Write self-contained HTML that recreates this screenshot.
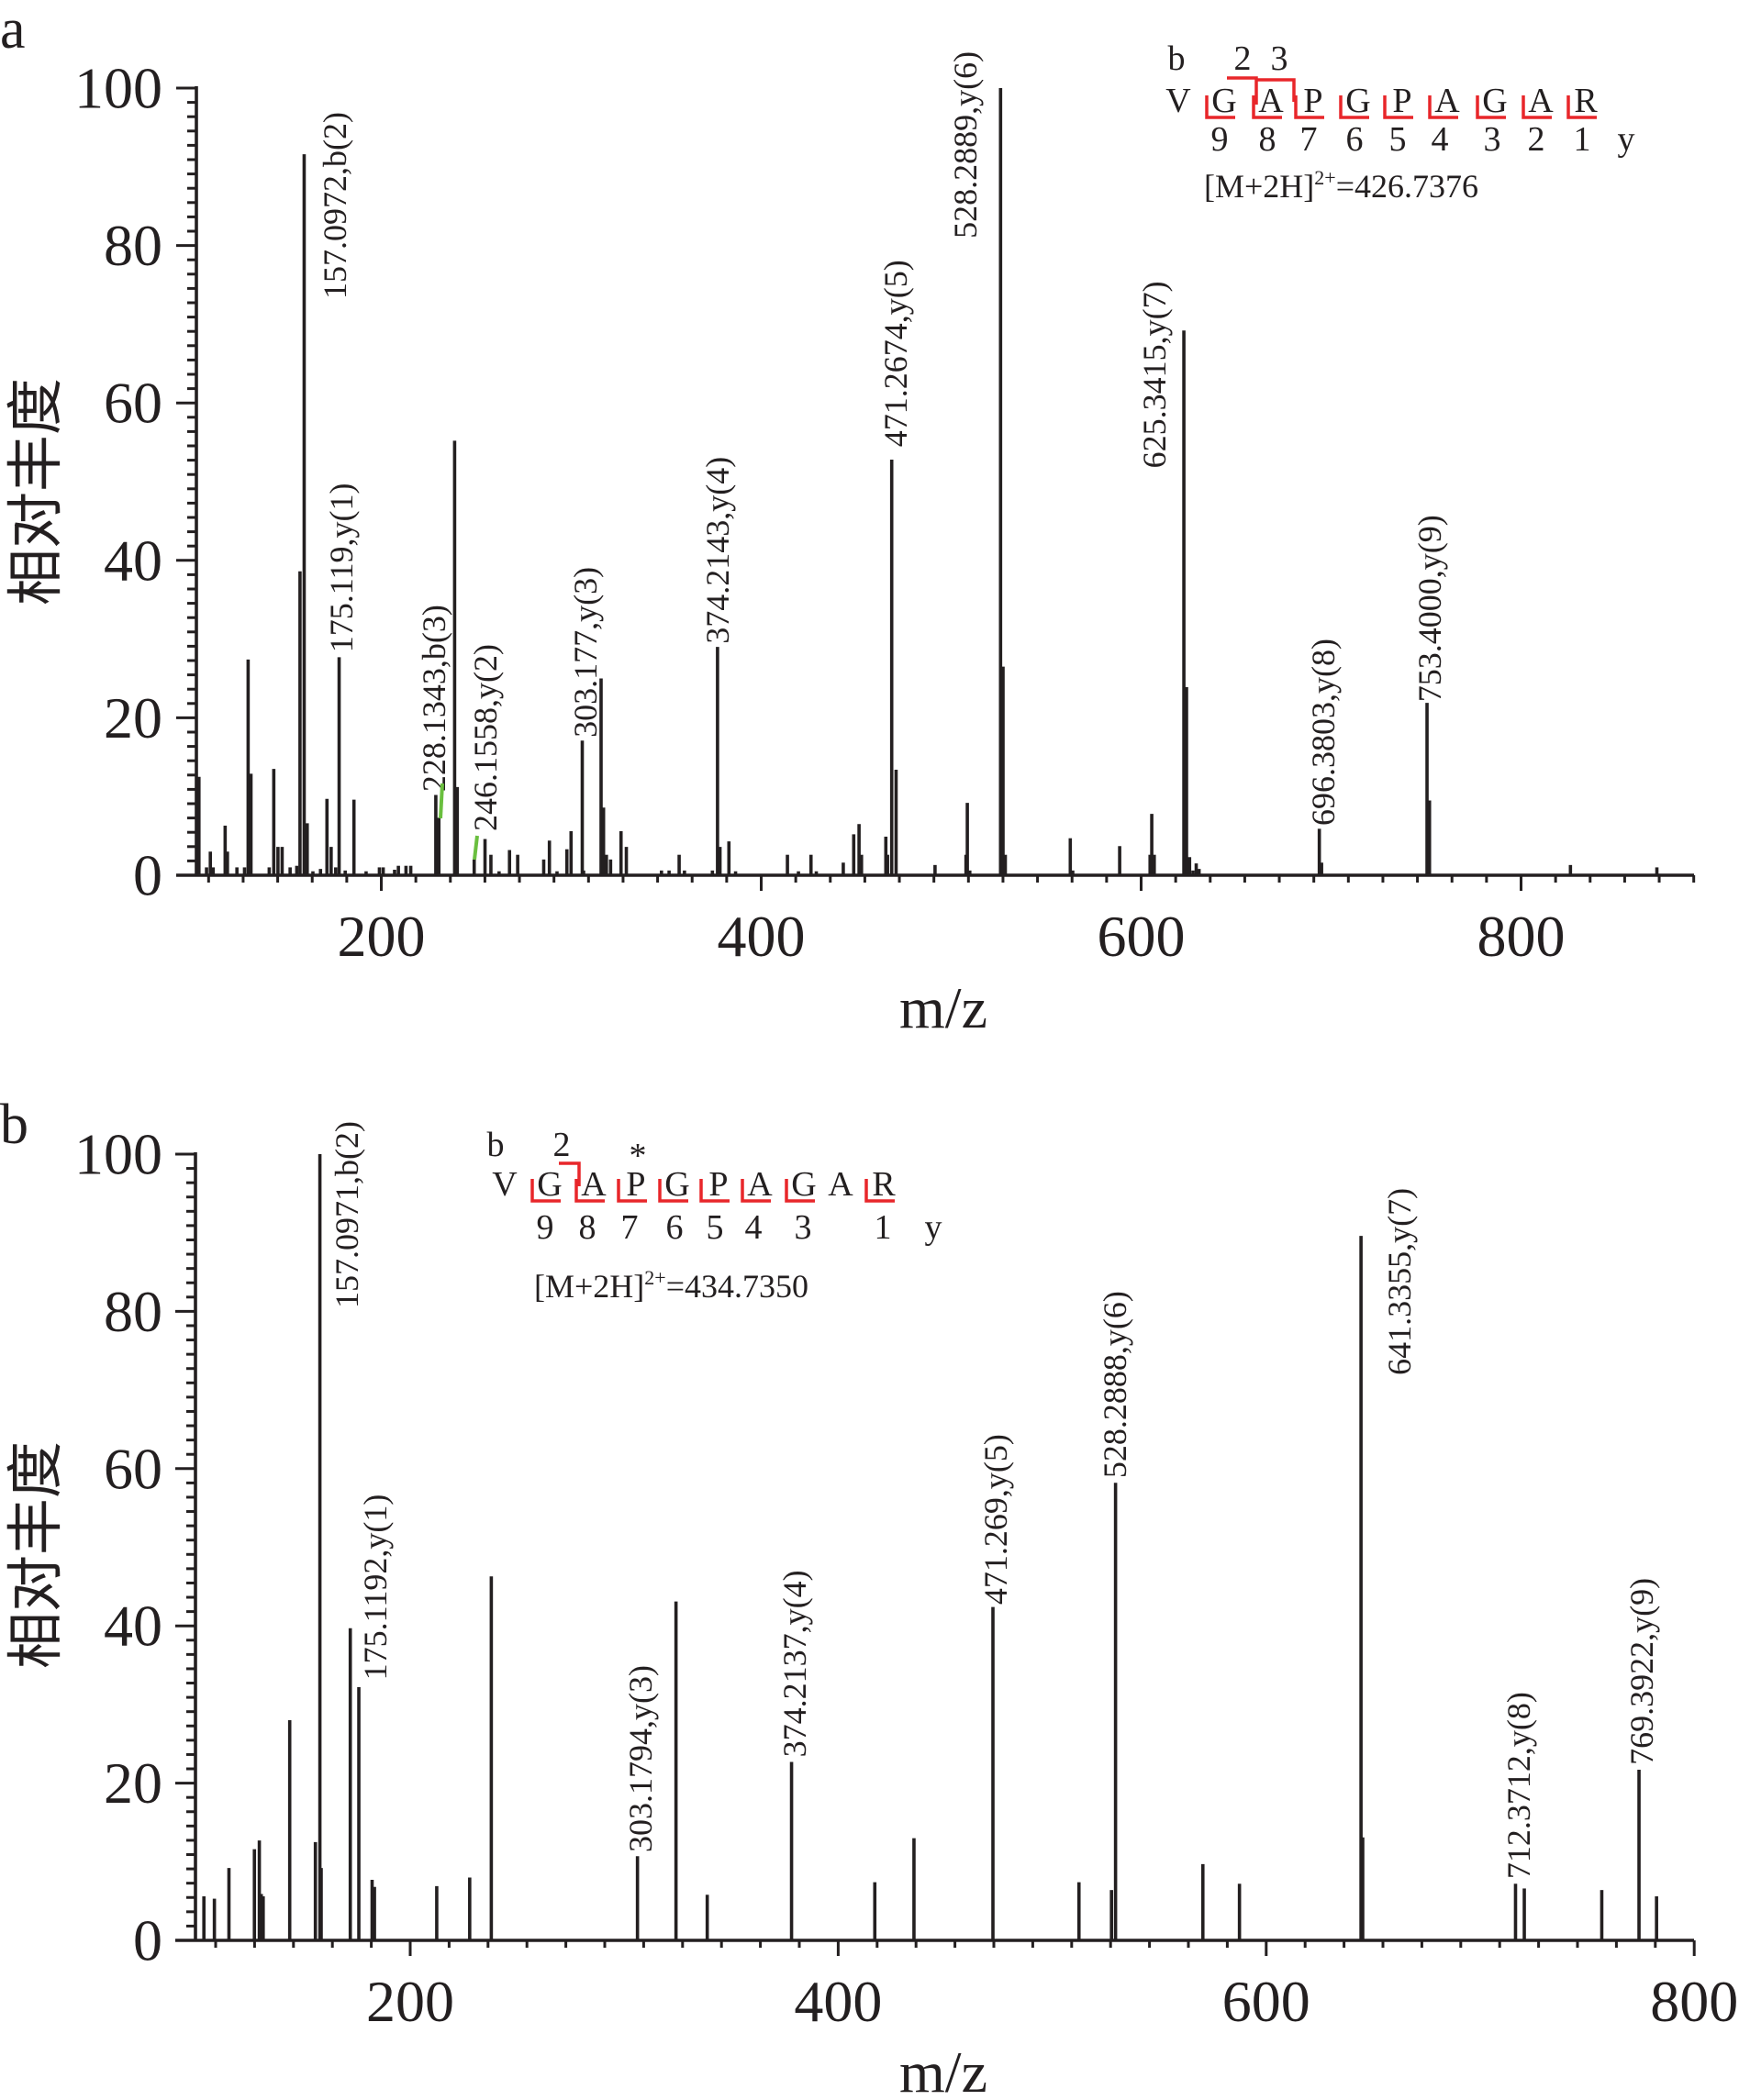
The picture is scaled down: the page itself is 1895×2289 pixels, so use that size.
<!DOCTYPE html>
<html><head><meta charset="utf-8"><style>
html,body{margin:0;padding:0;background:#fff;}
svg{display:block;}
text{font-family:"Liberation Serif","Noto Serif CJK SC",serif;fill:#231f20;}
.cjk{font-family:"Liberation Serif","Noto Sans CJK SC",sans-serif;}
</style></head><body>
<svg id="chart" width="1895" height="2289" viewBox="0 0 1895 2289" xmlns="http://www.w3.org/2000/svg">
<text x="0" y="52" font-size="62">a</text>
<text x="0" y="1246" font-size="62">b</text>
<g id="panelA"></g>
<g id="panelB"></g>
</svg>
<script>
const mzA=[104,108,110,111.5,117.8,119,124,129.9,131.4,128,141,143.4,145.6,147.8,152,155.5,157.2,159.4,161,164,168,171.4,173.6,176,177.8,181,185.6,192,199,201,207,209,213,215.5,228.7,230.3,238.6,240,248.9,254.6,257.7,262,267.5,271.8,285.5,288.5,292.5,297.7,299.9,305.8,306.5,315.7,317,318.5,320.7,326.2,329,347.5,351.5,356.8,359.6,374.3,377,378.3,383,386.5,413.8,419.6,426.2,429,443.2,448.7,451.5,452.8,465.6,466.5,468.7,471,491.5,507.8,508.5,509.8,526,527.3,528.5,562.7,564,588.7,604.7,605.6,606.9,622.5,623.9,625.5,627.3,629,630.5,693.8,695,750.5,751.8,826,871.5];
const intA=[12.5,1,3,1,6.3,3,1,27.4,12.9,1,1,13.5,3.6,3.6,1,1.2,38.6,91.6,6.6,0.5,0.8,9.7,3.6,1,27.7,0.6,9.6,0.5,1,1,0.7,1.2,1.2,1.2,10.2,7.3,55.2,11.2,2,4.6,2.6,0.5,3.2,2.6,2,4.4,0.5,3.3,5.6,17.1,0.6,25,8.6,2.6,2,5.6,3.6,0.6,0.6,2.6,0.6,0.6,29,3.6,4.3,0.5,2.6,0.5,2.6,0.5,1.6,5.2,6.5,2.6,4.9,2.6,52.8,13.4,1.3,2.6,9.2,0.6,100,26.5,2.6,4.7,0.6,3.7,2.6,7.8,2.6,69.2,23.9,2.3,0.6,1.5,0.8,5.9,1.6,21.9,9.5,1.3,1];
const labTextA=["157.0972,b(2)","175.119,y(1)","228.1343,b(3)","246.1558,y(2)","303.177,y(3)","374.2143,y(4)","471.2674,y(5)","528.2889,y(6)","625.3415,y(7)","696.3803,y(8)","753.4000,y(9)"];
const labMzA=[175.6,179,227.8,254.8,307.5,377.1,470.8,507.5,607,695.9,752];
const labValA=[73.2,28.3,10.6,5.6,17.5,29.4,54.4,80.9,51.7,6.3,22];
const mzB=[103.6,108.5,115.3,127.2,129.5,130.4,131.3,143.7,155.7,157.8,158.4,172,176,182.2,183.3,212.4,227.8,237.9,306.2,324.2,338.8,378.2,417.1,435.4,472.3,512.5,527.7,529.6,570.4,587.5,644.3,645.1,716.5,720.6,756.8,774.2,782.4];
const intB=[5.6,5.3,9.2,11.6,12.7,5.9,5.6,28,12.5,100,9.2,39.7,32.2,7.7,6.8,6.9,8,46.3,10.7,43.1,5.8,22.7,7.4,13,42.4,7.4,6.4,58.2,9.7,7.2,89.6,13.1,7.2,6.6,6.4,21.7,5.6];
const labTextB=["157.0971,b(2)","175.1192,y(1)","303.1794,y(3)","374.2137,y(4)","471.269,y(5)","528.2888,y(6)","641.3355,y(7)","712.3712,y(8)","769.3922,y(9)"];
const labMzB=[170.4,183.7,307.6,379.7,473.6,529.3,662.3,718,775.5];
const labValB=[80.4,33.1,11.2,23.3,42.7,58.8,71.9,7.8,22.3];
const xTicks=[200,400,600,800];
const yTicks=[0,20,40,60,80,100];

const NS="http://www.w3.org/2000/svg";
function mk(tag,attrs,parent){const e=document.createElementNS(NS,tag);for(const k in attrs)e.setAttribute(k,attrs[k]);parent.appendChild(e);return e;}
const INK="#231f20";

function drawPanel(g,cfg,mz,inten,labT,labM,labV){
  const X=m=>cfg.x200+(m-200)*cfg.px;
  const Y=v=>cfg.y0-v*(cfg.y0-cfg.y100)/100;
  for(let i=0;i<mz.length;i++){
    const b=mk('line',{x1:X(mz[i]),x2:X(mz[i]),y1:cfg.y0,y2:Y(inten[i]),stroke:INK,'stroke-width':3.6},g);
    
    
  }
  const ax=mk('line',{x1:cfg.axL,x2:cfg.axL,y1:cfg.y100-2,y2:cfg.y0,stroke:INK,'stroke-width':3.6},g);
  
  
  const bx=mk('line',{x1:cfg.axL-22,x2:cfg.axR,y1:cfg.y0,y2:cfg.y0,stroke:INK,'stroke-width':3.6},g);
  
  
  const stepY=20/11;
  for(let k=0;k<=55;k++){
    const v=k*stepY;const yy=Y(v);
    const major=(k%11===0);
    const t=mk('line',{x1:cfg.axL-(major?22:10),x2:cfg.axL,y1:yy,y2:yy,stroke:INK,'stroke-width':3},g);
    
    
  }
  yTicks.forEach(v=>{
    const t=mk('text',{x:177,y:Y(v),'font-size':64,'text-anchor':'end','dominant-baseline':'central'},g);
    t.textContent=v;
    
    
  });
  const stepX=200/11;
  for(let k=-6;k<=40;k++){
    const m=200+k*stepX;const xx=X(m);
    if(xx<cfg.axL+5||xx>cfg.axR+1)continue;
    const major=(k%11===0);
    const t=mk('line',{x1:xx,x2:xx,y1:cfg.y0,y2:cfg.y0+(major?17:8),stroke:INK,'stroke-width':3},g);
    
    
  }
  xTicks.forEach(v=>{
    if(X(v)>cfg.axR+2)return;
    const t=mk('text',{x:X(v),y:cfg.y0+88,'font-size':64,'text-anchor':'middle'},g);
    t.textContent=v;
    
    
  });
  for(let i=0;i<labT.length;i++){
    const x=X(labM[i]),y=Y(labV[i]);
    const t=mk('text',{x:x,y:y,'font-size':36,'text-anchor':'start','dominant-baseline':'central',transform:`rotate(-90 ${x} ${y})`},g);
    t.textContent=labT[i];
    
    
  }
  const xt=mk('text',{x:1028,y:cfg.titleY,'font-size':64,'text-anchor':'middle'},g);
  xt.textContent='m/z';
  
  
  const yc=cfg.ytitleY;
  const yt=mk('text',{x:40,y:yc,'font-size':62,'text-anchor':'middle','dominant-baseline':'central','class':'cjk',transform:`rotate(-90 40 ${yc})`},g);
  yt.textContent='相对丰度';
  
  
}

drawPanel(document.getElementById('panelA'),{x200:415.5,px:2.07,y0:954,y100:96,axL:214,axR:1846,titleY:1120,ytitleY:536},mzA,intA,labTextA,labMzA,labValA);
drawPanel(document.getElementById('panelB'),{x200:447,px:2.332,y0:2115,y100:1258,axL:213,axR:1846,titleY:2280,ytitleY:1695},mzB,intB,labTextB,labMzB,labValB);

const svg=document.getElementById('chart');
const g1=mk('line',{x1:482,y1:854,x2:480,y2:892,stroke:'#6abf3f','stroke-width':4},svg);


const g2=mk('line',{x1:520,y1:911,x2:517,y2:937,stroke:'#6abf3f','stroke-width':4},svg);



function seq(letters,lx,baseY,nums,nx,numY,yBr,bBr,formula,fx,fy,topItems){
  const g=mk('g',{},svg);
  
  
  letters.forEach((c,i)=>{
    const t=mk('text',{x:lx[i],y:baseY,'font-size':38,'text-anchor':'middle'},g);
    t.textContent=c;
    
    
  });
  nums.forEach((c,i)=>{
    const t=mk('text',{x:nx[i],y:numY,'font-size':38,'text-anchor':'middle'},g);
    t.textContent=c;
    
    
  });
  yBr.forEach(i=>{
    const cx=lx[i];
    const p=mk('polyline',{points:`${cx-19},${baseY-18} ${cx-19},${baseY+6} ${cx+12},${baseY+6}`,fill:'none',stroke:'#e8262a','stroke-width':3.5},g);
    
    
  });
  bBr.forEach(b=>{
    const p=mk('polyline',{points:`${b[0]},${b[2]} ${b[1]},${b[2]} ${b[1]},${b[3]}`,fill:'none',stroke:'#e8262a','stroke-width':3.5},g);
    
    
  });
  topItems.forEach(it=>{
    const t=mk('text',{x:it[1],y:it[2],'font-size':38,'text-anchor':'middle'},g);
    t.textContent=it[0];
    
    
  });
  const f=mk('text',{x:fx,y:fy,'font-size':36},g);
  
  
  f.innerHTML=formula;
}
seq(['V','G','A','P','G','P','A','G','A','R'],[1284,1334,1385,1431,1480,1528,1577,1629,1679,1728],122,
    ['9','8','7','6','5','4','3','2','1','y'],[1329,1381,1426,1476,1523,1569,1626,1674,1724,1772],164,
    [1,2,3,4,5,6,7,8,9],[[1337,1369,85,114],[1369,1410,87,111]],
    '[M+2H]<tspan font-size="22" dy="-14">2+</tspan><tspan dy="14">=426.7376</tspan>',1312,215,
    [['b',1282,76],['2',1354,76],['3',1394,76]]);
seq(['V','G','A','P','G','P','A','G','A','R'],[550,599,647,693,738,783,828,876,916,963],1303,
    ['9','8','7','6','5','4','3','1','y'],[594,640,686,735,779,821,875,962,1017],1350,
    [1,2,3,4,5,6,7,9],[[609,631,1268,1293]],
    '[M+2H]<tspan font-size="22" dy="-14">2+</tspan><tspan dy="14">=434.7350</tspan>',582,1414,
    [['b',540,1260],['2',612,1260],['*',695,1272]]);
</script>
</body></html>
